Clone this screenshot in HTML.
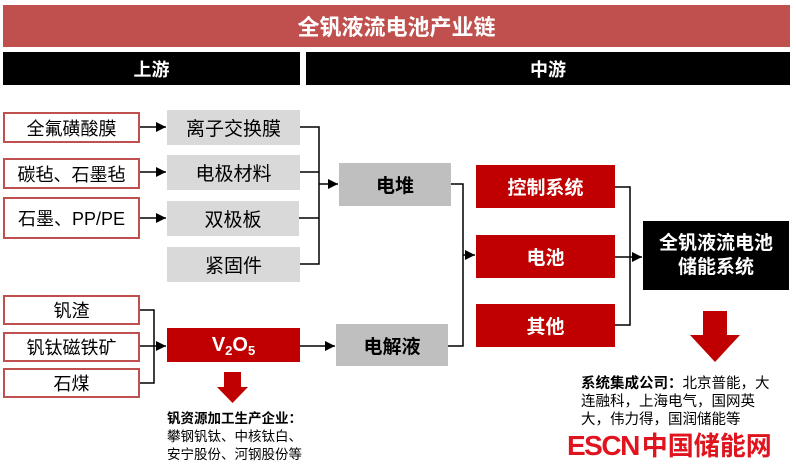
<!DOCTYPE html>
<html><head><meta charset="utf-8"><style>
body{margin:0;width:796px;height:473px;background:#fff;overflow:hidden;position:relative;font-family:"Liberation Sans","Noto Sans CJK SC",sans-serif}
.b{position:absolute;display:flex;align-items:center;justify-content:center;box-sizing:border-box;white-space:nowrap}
.rb{border:2px solid #c0504d;background:#fff;font-size:18px;color:#000}
.g{background:#d9d9d9;font-size:19px;color:#000}
.gb{background:#bfbfbf;font-size:19px;font-weight:bold}
.r{background:#c00000;color:#fff;font-size:19px;font-weight:bold}
svg{position:absolute;left:0;top:0}
</style></head><body>
<div class="b" style="left:3px;top:5px;width:787px;height:42px;background:#c0504d;color:#fff;font-size:22px;font-weight:bold">全钒液流电池产业链</div>
<div class="b" style="left:3px;top:52px;width:297px;height:33px;background:#000;color:#fff;font-size:18px;font-weight:bold">上游</div>
<div class="b" style="left:306px;top:52px;width:484px;height:33px;background:#000;color:#fff;font-size:18px;font-weight:bold">中游</div>

<div class="b rb" style="left:3px;top:112px;width:137px;height:31px">全氟磺酸膜</div>
<div class="b rb" style="left:3px;top:158px;width:137px;height:31px">碳毡、石墨毡</div>
<div class="b rb" style="left:3px;top:197px;width:137px;height:42px">石墨、PP/PE</div>

<div class="b g" style="left:167px;top:110px;width:133px;height:35px">离子交换膜</div>
<div class="b g" style="left:167px;top:155px;width:133px;height:35px">电极材料</div>
<div class="b g" style="left:167px;top:201px;width:132px;height:35px">双极板</div>
<div class="b g" style="left:167px;top:247px;width:133px;height:35px">紧固件</div>

<div class="b rb" style="left:3px;top:295px;width:137px;height:30px">钒渣</div>
<div class="b rb" style="left:3px;top:332px;width:137px;height:30px">钒钛磁铁矿</div>
<div class="b rb" style="left:3px;top:368px;width:137px;height:30px">石煤</div>

<div class="b r" style="left:167px;top:328px;width:133px;height:34px;font-size:20px">V<span style="font-size:13px;position:relative;top:5px">2</span>O<span style="font-size:13px;position:relative;top:5px">5</span></div>

<div class="b gb" style="left:339px;top:163px;width:112px;height:43px">电堆</div>
<div class="b gb" style="left:336px;top:324px;width:112px;height:42px">电解液</div>

<div class="b r" style="left:476px;top:165px;width:139px;height:43px">控制系统</div>
<div class="b r" style="left:476px;top:235px;width:139px;height:43px">电池</div>
<div class="b r" style="left:476px;top:304px;width:139px;height:43px">其他</div>

<div class="b" style="left:643px;top:221px;width:146px;height:69px;background:#000;color:#fff;font-size:19px;font-weight:bold;flex-direction:column;line-height:24px"><span>全钒液流电池</span><span>储能系统</span></div>

<svg width="796" height="473" viewBox="0 0 796 473">
<defs><marker id="a" markerWidth="10" markerHeight="10" refX="10" refY="5" orient="auto" markerUnits="userSpaceOnUse"><path d="M0,0L10,5L0,10z" fill="#000"/></marker></defs>
<g stroke="#000" stroke-width="1.5" fill="none">
<line x1="140" y1="127" x2="166" y2="127" marker-end="url(#a)"/>
<line x1="140" y1="172" x2="166" y2="172" marker-end="url(#a)"/>
<line x1="140" y1="218" x2="166" y2="218" marker-end="url(#a)"/>
<path d="M300 127H319V264H300M300 172H319M299 218H319"/>
<line x1="319" y1="184" x2="338" y2="184" marker-end="url(#a)"/>
<path d="M140 310H154V383H140M140 346H154"/>
<line x1="154" y1="346" x2="166" y2="346" marker-end="url(#a)"/>
<line x1="300" y1="346" x2="335" y2="346" marker-end="url(#a)"/>
<path d="M451 184H463V346H448"/>
<line x1="463" y1="255" x2="475" y2="255" marker-end="url(#a)"/>
<path d="M615 187H630V325H615"/>
<line x1="615" y1="257" x2="642" y2="257" marker-end="url(#a)"/>
</g>
<path d="M224 372H241V387H248L232.5 403L217 387H224Z" fill="#c00000"/>
<path d="M703 311H727V335H740L715 362L690 335H703Z" fill="#c00000"/>
</svg>

<div style="position:absolute;left:167px;top:410px;font-size:13.5px;line-height:18px;color:#000;white-space:nowrap"><b>钒资源加工生产企业：</b><br>攀钢钒钛、中核钛白、<br>安宁股份、河钢股份等</div>
<div style="position:absolute;left:581px;top:375px;font-size:14.5px;line-height:18px;color:#000;white-space:nowrap"><b>系统集成公司：</b>北京普能，大<br>连融科，上海电气，国网英<br>大，伟力得，国润储能等</div>
<div style="position:absolute;left:567px;top:429px;font-size:28px;font-weight:bold;color:#e0141e;letter-spacing:-1.5px;line-height:34px;white-space:nowrap">ESCN<span style="font-size:26px;letter-spacing:0;margin-left:3px">中国储能网</span></div>
</body></html>
